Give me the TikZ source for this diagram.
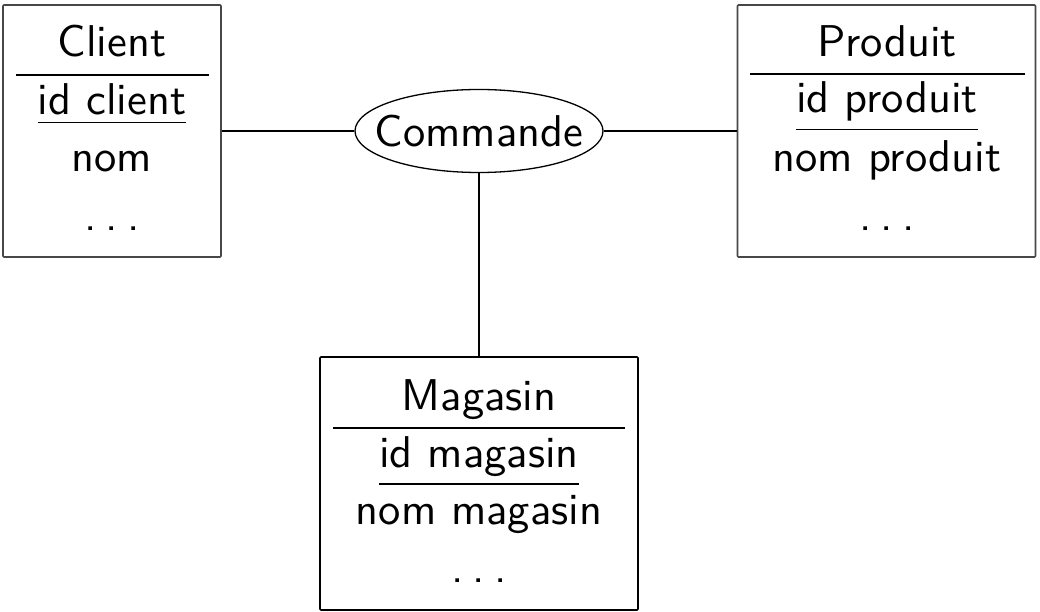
\documentclass[tikz,border=0pt]{standalone}
\usepackage{fontspec}
\newfontfamily\entf{lmsans10-regular}[Extension=.otf]
\usetikzlibrary{shapes.geometric}
\newcommand\entdots{.\kern9pt.\kern9pt.}
\begin{document}
\begin{tikzpicture}[x=1pt,y=-1pt,
  font=\entf\fontsize{44.5}{52}\selectfont,
  entbox/.style={draw=#1,line width=1.6pt,rounded corners=1pt,rectangle,inner sep=0pt},
  txt/.style={anchor=base,inner sep=0pt},
  sep/.style={line width=1.4pt},
  conn/.style={line width=1.4pt},
  relat/.style={draw,ellipse,line width=1.3pt,inner xsep=-17pt,inner ysep=0pt,minimum width=248pt,minimum height=83pt}]
\useasboundingbox (0,0) rectangle (1040,612);
% entity boxes
\node[entbox=black!72,minimum width=218pt,minimum height=252pt] (client) at (112,131) {};
\node[entbox=black!72,minimum width=298pt,minimum height=252pt] (produit) at (886.5,131) {};
\node[entbox=black,minimum width=318pt,minimum height=253pt] (magasin) at (479,483.5) {};
% relationship
\node[relat] (cmd) at (479,131) {Commande};
% Client texts
\node[txt] (cT) at (112,57) {Client};
\draw[sep] (16,75) -- (209,75);
\node[txt] (cId) at (112,115) {id client};
\draw[sep] ([yshift=-7pt]cId.south west) -- ([yshift=-7pt]cId.south east);
\node[txt] (cNom) at (112,172) {nom};
\node[txt] (cDots) at (112,230) {\entdots};
% Produit texts
\node[txt] (pT) at (887,57) {Produit};
\draw[sep] (750,74) -- (1025,74);
\node[txt] (pId) at (887,113) {id produit};
\draw[sep] ([yshift=-7.5pt]pId.south west) -- ([yshift=-7.5pt]pId.south east);
\node[txt] (pNom) at (887,172) {nom produit};
\node[txt] (pDots) at (887,230) {\entdots};
% Magasin texts
\node[txt] (mT) at (479,410) {Magasin};
\draw[sep] (333,428) -- (625,428);
\node[txt] (mId) at (479,467) {id magasin};
\draw[sep] ([yshift=-7.5pt]mId.south west) -- ([yshift=-7.5pt]mId.south east);
\node[txt] (mNom) at (479,524) {nom magasin};
\node[txt] (mDots) at (479,582) {\entdots};
% connectors
\draw[conn] (client) -- (cmd);
\draw[conn] (cmd) -- (produit);
\draw[conn] (cmd) -- (magasin);
\end{tikzpicture}
\end{document}
